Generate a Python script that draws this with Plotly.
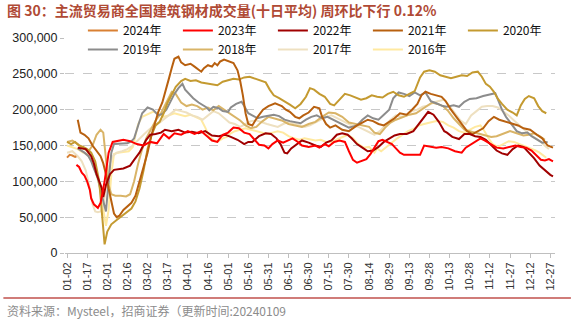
import plotly.graph_objects as go

# Tick labels on the day axis (day 0 = 01-02, one tick every 15 days)
tick_labels = ["01-02", "01-17", "02-01", "02-16", "03-02", "03-17", "04-01", "04-16",
               "05-01", "05-16", "05-31", "06-15", "06-30", "07-15", "07-30", "08-14",
               "08-29", "09-13", "09-28", "10-13", "10-28", "11-12", "11-27", "12-12", "12-27"]
tick_days = [15 * i for i in range(len(tick_labels))]

# Ten-day average volume (tonnes), sampled as (day, value in thousand tonnes)
y2024 = [(0, 133), (2, 137), (4, 136), (6, 134), (7, 135)]

y2023 = [(7, 123), (9, 120), (11, 112), (13, 108), (15, 100), (17, 88), (18, 76), (20, 68), (23, 63),
         (25, 70), (28, 100), (31, 140), (34, 155), (38, 157), (42, 158), (47, 156), (52, 152), (57, 150),
         (62, 155), (67, 153), (72, 166), (76, 160), (80, 167), (85, 165), (90, 170), (95, 166), (100, 170),
         (105, 162), (108, 157), (112, 155), (116, 165), (120, 168), (124, 175), (128, 174), (132, 168),
         (136, 166), (140, 158), (143, 151), (147, 150), (150, 146), (153, 152), (157, 157), (161, 154),
         (165, 158), (168, 160), (172, 155), (175, 150), (180, 148), (185, 150), (188, 147), (192, 152),
         (195, 149), (199, 155), (203, 157), (207, 155), (210, 142), (213, 130), (216, 126), (219, 128),
         (223, 131), (226, 138), (229, 148), (232, 156), (235, 158), (238, 155), (242, 152), (245, 146),
         (248, 140), (251, 137), (255, 137), (259, 136), (263, 137), (266, 150), (270, 149), (275, 147),
         (279, 148), (284, 146), (289, 142), (294, 140), (297, 147), (301, 152), (305, 156), (308, 160),
         (311, 157), (315, 153), (320, 147), (325, 146), (330, 148), (334, 150), (338, 148), (342, 147),
         (346, 143), (350, 135), (353, 130), (356, 129), (359, 131), (362, 128)]

y2022 = [(8, 147), (11, 146), (14, 145), (16, 140), (18, 135), (20, 125), (22, 110), (24, 100), (26, 90),
         (27, 78), (29, 95), (32, 110), (35, 116), (42, 118), (47, 122), (50, 130), (54, 140), (59, 158),
         (62, 165), (66, 166), (70, 168), (73, 172), (78, 170), (83, 172), (88, 168), (93, 169), (98, 167),
         (103, 170), (108, 164), (113, 163), (118, 165), (122, 162), (127, 158), (132, 152), (135, 155),
         (138, 155), (143, 163), (148, 167), (152, 166), (156, 160), (159, 152), (162, 140), (164, 139),
         (167, 146), (171, 152), (175, 157), (180, 154), (185, 150), (189, 148), (193, 154), (197, 157),
         (201, 165), (205, 167), (209, 165), (212, 160), (216, 152), (220, 147), (224, 142), (228, 143),
         (232, 148), (236, 155), (240, 160), (244, 164), (248, 166), (253, 166), (258, 170), (262, 180),
         (266, 190), (269, 197), (273, 193), (277, 183), (281, 170), (283, 168), (287, 162), (292, 159),
         (296, 166), (300, 166), (304, 163), (308, 162), (312, 158), (316, 150), (320, 143), (324, 139),
         (328, 137), (332, 145), (336, 150), (340, 148), (344, 140), (348, 132), (352, 122), (356, 115),
         (360, 109), (362, 107)]

y2021 = [(8, 186), (10, 168), (13, 165), (16, 160), (19, 150), (22, 142), (25, 135), (27, 125), (29, 110),
         (31, 90), (33, 70), (35, 55), (37, 50), (39, 52), (42, 60), (45, 65), (48, 70), (51, 80), (54, 100),
         (57, 120), (60, 140), (63, 165), (66, 185), (68, 197), (71, 210), (73, 225), (76, 244), (78, 258),
         (80, 271), (83, 274), (85, 266), (88, 262), (92, 264), (95, 260), (98, 255), (100, 253), (102, 258),
         (105, 262), (108, 260), (110, 265), (112, 262), (114, 267), (117, 270), (120, 268), (124, 265),
         (127, 255), (129, 240), (131, 220), (133, 195), (135, 180), (138, 178), (142, 190), (146, 200),
         (150, 205), (155, 209), (160, 205), (163, 200), (166, 197), (170, 190), (173, 188), (176, 192),
         (180, 196), (184, 204), (188, 202), (190, 190), (193, 180), (196, 175), (200, 178), (205, 172),
         (210, 170), (213, 174), (216, 178), (220, 182), (224, 186), (228, 184), (232, 180), (236, 178),
         (240, 183), (244, 188), (248, 195), (253, 193), (257, 200), (261, 208), (264, 220), (267, 225),
         (271, 222), (275, 220), (279, 218), (282, 212), (286, 200), (290, 190), (294, 180), (298, 170),
         (302, 166), (306, 170), (310, 174), (314, 184), (318, 190), (322, 186), (327, 183), (331, 180),
         (336, 178), (340, 174), (345, 172), (350, 165), (354, 160), (358, 150), (362, 147)]

y2020 = [(0, 155), (3, 152), (6, 155), (9, 150), (12, 148), (15, 145), (18, 140), (21, 128), (24, 100),
         (26, 55), (28, 12), (30, 30), (33, 40), (37, 46), (41, 52), (45, 58), (48, 62), (51, 72), (54, 90),
         (57, 115), (60, 145), (63, 165), (66, 178), (69, 183), (72, 195), (75, 210), (78, 222), (81, 232),
         (85, 240), (88, 243), (92, 240), (96, 241), (100, 238), (104, 237), (108, 236), (112, 234),
         (116, 239), (120, 241), (124, 243), (128, 242), (132, 245), (136, 246), (140, 243), (144, 240),
         (148, 238), (151, 228), (154, 220), (158, 216), (162, 212), (166, 207), (170, 202), (174, 208),
         (178, 218), (181, 230), (184, 228), (188, 222), (192, 218), (196, 208), (199, 206), (203, 214),
         (207, 222), (211, 220), (215, 217), (219, 214), (223, 216), (227, 220), (231, 218), (235, 217),
         (239, 222), (243, 225), (247, 220), (251, 218), (255, 222), (259, 226), (263, 245), (266, 253),
         (270, 255), (274, 253), (278, 248), (282, 246), (286, 244), (290, 246), (294, 248), (298, 247),
         (302, 252), (306, 253), (309, 246), (312, 236), (315, 232), (318, 225), (321, 215), (324, 208),
         (328, 200), (332, 196), (335, 192), (338, 206), (341, 215), (344, 219), (348, 216), (351, 205),
         (354, 198), (357, 195)]

y2019 = [(8, 146), (13, 140), (16, 135), (18, 128), (20, 118), (23, 104), (26, 80), (28, 62), (29, 58),
         (31, 100), (33, 140), (35, 152), (40, 153), (45, 153), (48, 156), (50, 160), (53, 178), (56, 195),
         (60, 203), (64, 200), (68, 192), (71, 194), (74, 200), (77, 211), (80, 222), (83, 230), (86, 236),
         (88, 228), (91, 222), (94, 216), (98, 210), (101, 206), (104, 203), (106, 199), (109, 204),
         (113, 202), (116, 198), (120, 197), (122, 203), (126, 208), (130, 211), (132, 205), (135, 195),
         (139, 191), (142, 188), (146, 190), (150, 191), (154, 193), (158, 191), (162, 186), (166, 184),
         (170, 183), (174, 181), (178, 186), (182, 190), (186, 192), (190, 188), (194, 190), (198, 186),
         (202, 183), (206, 179), (210, 175), (212, 176), (216, 178), (220, 186), (224, 192), (228, 188),
         (232, 186), (236, 193), (240, 200), (243, 216), (247, 224), (251, 222), (255, 219), (259, 224),
         (263, 220), (267, 224), (271, 212), (275, 209), (280, 205), (283, 204), (288, 206), (292, 204),
         (296, 211), (300, 215), (305, 216), (310, 219), (315, 221), (319, 223), (321, 214), (324, 200),
         (327, 190), (331, 180), (335, 170), (339, 167), (343, 168), (346, 163), (350, 158), (354, 154),
         (358, 155)]

y2018 = [(0, 155), (4, 157), (8, 152), (12, 146), (16, 142), (19, 150), (22, 165), (25, 172), (27, 168),
         (29, 130), (31, 95), (33, 82), (36, 80), (40, 80), (44, 79), (47, 82), (50, 100), (53, 125),
         (56, 145), (59, 160), (62, 170), (66, 185), (70, 195), (74, 210), (78, 225), (81, 222), (85, 210),
         (89, 205), (93, 207), (97, 205), (101, 200), (105, 203), (109, 199), (113, 205), (117, 200),
         (121, 196), (125, 190), (129, 185), (133, 178), (137, 174), (141, 176), (145, 183), (150, 190),
         (155, 188), (160, 185), (165, 180), (170, 178), (175, 176), (180, 180), (185, 183), (190, 190),
         (195, 196), (200, 195), (205, 190), (210, 182), (215, 180), (220, 178), (225, 176), (229, 168),
         (233, 166), (237, 175), (241, 182), (245, 186), (250, 190), (255, 193), (260, 195), (264, 200),
         (268, 205), (272, 210), (276, 208), (280, 205), (284, 198), (288, 188), (292, 180), (296, 172),
         (300, 170), (304, 168), (308, 167), (312, 164), (316, 162), (320, 163), (325, 167), (330, 170),
         (335, 167), (340, 164), (344, 165), (348, 167), (352, 163), (356, 158)]

y2017 = [(0, 140), (4, 142), (8, 135), (11, 128), (14, 115), (17, 90), (19, 68), (21, 58), (23, 57),
         (25, 58), (27, 65), (29, 95), (31, 120), (34, 135), (37, 140), (41, 142), (45, 145), (49, 150),
         (53, 158), (57, 165), (61, 172), (65, 178), (69, 182), (73, 188), (77, 195), (81, 200), (85, 198),
         (89, 196), (93, 192), (97, 190), (101, 186), (105, 192), (109, 198), (113, 195), (117, 188),
         (121, 182), (125, 180), (129, 176), (133, 180), (137, 184), (141, 185), (145, 182), (149, 180),
         (153, 178), (157, 176), (161, 180), (165, 183), (169, 181), (173, 178), (177, 176), (181, 178),
         (185, 182), (189, 186), (193, 190), (197, 192), (201, 188), (205, 184), (209, 180), (213, 177),
         (217, 176), (221, 172), (225, 168), (229, 165), (233, 170), (237, 178), (241, 186), (245, 192),
         (249, 190), (253, 192), (257, 198), (261, 200), (265, 204), (269, 206), (273, 210), (277, 212),
         (281, 214), (285, 205), (289, 195), (293, 185), (297, 180), (301, 192), (305, 198), (309, 204),
         (313, 205), (317, 205), (321, 203), (325, 198), (329, 192), (333, 185), (337, 178), (341, 172),
         (345, 165), (349, 160), (353, 155), (357, 148), (359, 145)]

y2016 = [(0, 150), (4, 148), (8, 145), (12, 140), (15, 138), (18, 130), (21, 115), (24, 95), (27, 60),
         (29, 38), (31, 60), (33, 110), (35, 138), (38, 140), (42, 141), (46, 142), (49, 148), (51, 165),
         (53, 180), (56, 190), (60, 193), (64, 197), (68, 195), (72, 190), (76, 192), (80, 195), (84, 193),
         (88, 191), (92, 193), (96, 190), (100, 186), (103, 175), (106, 162), (109, 158), (112, 155),
         (116, 160), (119, 162), (122, 167), (125, 170), (129, 172), (133, 174), (137, 172), (141, 170),
         (145, 168), (149, 166), (153, 168), (157, 170), (161, 168), (165, 163), (169, 160), (173, 158),
         (177, 160), (181, 158), (185, 157), (189, 158), (193, 155), (197, 155), (201, 158), (205, 162),
         (209, 165), (213, 160), (217, 152), (221, 147), (225, 148), (229, 140), (231, 146), (234, 142),
         (238, 148), (242, 155), (246, 160), (250, 165), (254, 170), (258, 173), (262, 178), (266, 180),
         (270, 182), (275, 184), (280, 183), (284, 178), (288, 175), (292, 170), (296, 168), (300, 172),
         (304, 176), (308, 178), (311, 170), (314, 160), (317, 152), (321, 148), (325, 152), (329, 156),
         (333, 155), (337, 152), (341, 150), (345, 146), (349, 143), (352, 140), (355, 135), (357, 133)]

series = [
    ("2024年", y2024, "#D98033"),
    ("2023年", y2023, "#FF0000"),
    ("2022年", y2022, "#A00000"),
    ("2021年", y2021, "#B8600F"),
    ("2020年", y2020, "#C49A30"),
    ("2019年", y2019, "#8C8C8C"),
    ("2018年", y2018, "#D9B467"),
    ("2017年", y2017, "#EEE0C0"),
    ("2016年", y2016, "#FFE9A0"),
]

FONT = "Arial, 'Liberation Sans', 'Noto Sans CJK SC', sans-serif"
CJK = "'Noto Sans CJK SC', 'Liberation Sans', sans-serif"

fig = go.Figure()
# older years underneath, recent years on top
for rank, (name, pts, color) in reversed(list(enumerate(series))):
    fig.add_trace(go.Scatter(
        x=[p[0] for p in pts],
        y=[p[1] * 1000 for p in pts],
        mode="lines",
        name=name,
        line=dict(color=color, width=2),
        legendrank=rank + 1,
    ))

L, R, T, B = 62, 16, 38, 68
W, H = 571, 321
pw, ph = W - L - R, H - T - B

fig.update_layout(
    width=W, height=H,
    margin=dict(l=L, r=R, t=T, b=B),
    paper_bgcolor="white", plot_bgcolor="white",
    font=dict(family=FONT, size=12, color="#222222"),
    showlegend=True,
    legend=dict(
        orientation="h", x=(80 - L) / pw, xanchor="left",
        y=(H - B - 16) / ph, yanchor="top",
        font=dict(family=CJK, size=12, color="#111111"),
        entrywidth=50, tracegroupgap=0, bgcolor="rgba(0,0,0,0)",
        itemwidth=30,
    ),
    xaxis=dict(
        range=[-1.5, 363.5], tickvals=tick_days, ticktext=tick_labels,
        tickangle=-90, ticks="outside", ticklen=4, tickcolor="#BFBFBF",
        showline=True, linecolor="#BFBFBF", linewidth=1, showgrid=False, zeroline=False,
        tickfont=dict(size=11, color="#333333"),
    ),
    yaxis=dict(
        range=[0, 300000], dtick=50000, tickformat=",",
        showgrid=True, gridcolor="#C8C8C8", griddash="dash", gridwidth=1,
        ticks="outside", ticklen=4, tickcolor="#BFBFBF", zeroline=False, showline=False,
        tickfont=dict(size=12.5, color="#222222"),
    ),
    annotations=[
        dict(text="<b>图 30：主流贸易商全国建筑钢材成交量(十日平均) 周环比下行 0.12%</b>",
             xref="paper", yref="paper", x=-(L - 2) / pw, y=(H - B - 10) / ph,
             xanchor="left", yanchor="middle", showarrow=False,
             font=dict(family=CJK, size=14, color="#B04A35")),
        dict(text="资料来源：Mysteel，招商证券（更新时间:20240109",
             xref="paper", yref="paper", x=-(L - 2) / pw, y=(H - B - 310) / ph,
             xanchor="left", yanchor="middle", showarrow=False,
             font=dict(family=CJK, size=12, color="#8C8C8C")),
    ],
    shapes=[
        dict(type="line", xref="paper", yref="paper",
             x0=-L / pw, x1=1 + R / pw, y0=(H - B - 298) / ph, y1=(H - B - 298) / ph,
             line=dict(color="#C0504D", width=1.5)),
    ],
)

fig.write_html("out.html")
